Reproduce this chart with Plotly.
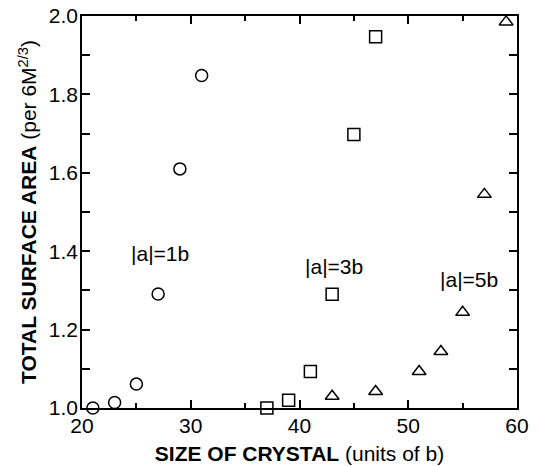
import plotly.graph_objects as go

# Data
x_1b = [21, 23, 25, 27, 29, 31]
y_1b = [1.0, 1.014, 1.061, 1.291, 1.61, 1.848]

x_3b = [37, 39, 41, 43, 45, 47]
y_3b = [1.0, 1.02, 1.093, 1.29, 1.698, 1.947]

x_5b = [43, 47, 51, 53, 55, 57, 59]
y_5b = [1.03, 1.042, 1.093, 1.144, 1.244, 1.545, 1.985]

labels = ["|a|=1b", "|a|=3b", "|a|=5b"]
label_x = [27.2, 43.2, 55.6]
label_y = [1.395, 1.36, 1.329]

FONT = "Liberation Sans, Arial, Helvetica, sans-serif"
FS = 21

fig = go.Figure()
for xs, ys, sym in [(x_1b, y_1b, "circle-open"),
                    (x_3b, y_3b, "square-open"),
                    (x_5b, y_5b, "triangle-up-open")]:
    fig.add_trace(go.Scatter(
        x=xs, y=ys, mode="markers", cliponaxis=False, showlegend=False,
        hoverinfo="skip",
        marker=dict(symbol=sym, size=12, color="black",
                    line=dict(color="black", width=1.5)),
    ))

for t, lx, ly in zip(labels, label_x, label_y):
    fig.add_annotation(x=lx, y=ly, text=t, showarrow=False,
                       font=dict(family=FONT, size=FS, color="black"))

axis_common = dict(
    showgrid=False, zeroline=False, showline=True, linecolor="black",
    linewidth=1.5, mirror="ticks", ticks="inside", tickcolor="black",
    tickwidth=1.5, tickfont=dict(family=FONT, size=FS, color="black"),
    automargin=False,
)

fig.update_layout(
    width=539, height=466,
    margin=dict(l=82, r=22, t=16, b=58),
    paper_bgcolor="white", plot_bgcolor="white",
    font=dict(family=FONT, size=FS, color="black"),
    xaxis=dict(
        range=[20, 60], dtick=10, tick0=20, ticklen=8, ticklabelstandoff=-2,
        minor=dict(dtick=5, ticks="inside", ticklen=5, tickcolor="black", tickwidth=1.5),
        title=dict(text="<b>SIZE OF CRYSTAL</b> (units of b)",
                   font=dict(family=FONT, size=FS, color="black"), standoff=10),
        **axis_common,
    ),
    yaxis=dict(
        range=[1.0, 2.0], dtick=0.2, tick0=1.0, tickformat=".1f", ticklen=8,
        ticklabelstandoff=-2,
        minor=dict(dtick=0.1, ticks="inside", ticklen=8, tickcolor="black", tickwidth=1.5),
        title=dict(text="<b>TOTAL SURFACE AREA</b> (per 6M<sup>2/3</sup>)",
                   font=dict(family=FONT, size=FS, color="black"), standoff=6),
        **axis_common,
    ),
)

fig.write_html("out.html", config={"displayModeBar": False},
               post_script="document.body.style.margin='0';")
